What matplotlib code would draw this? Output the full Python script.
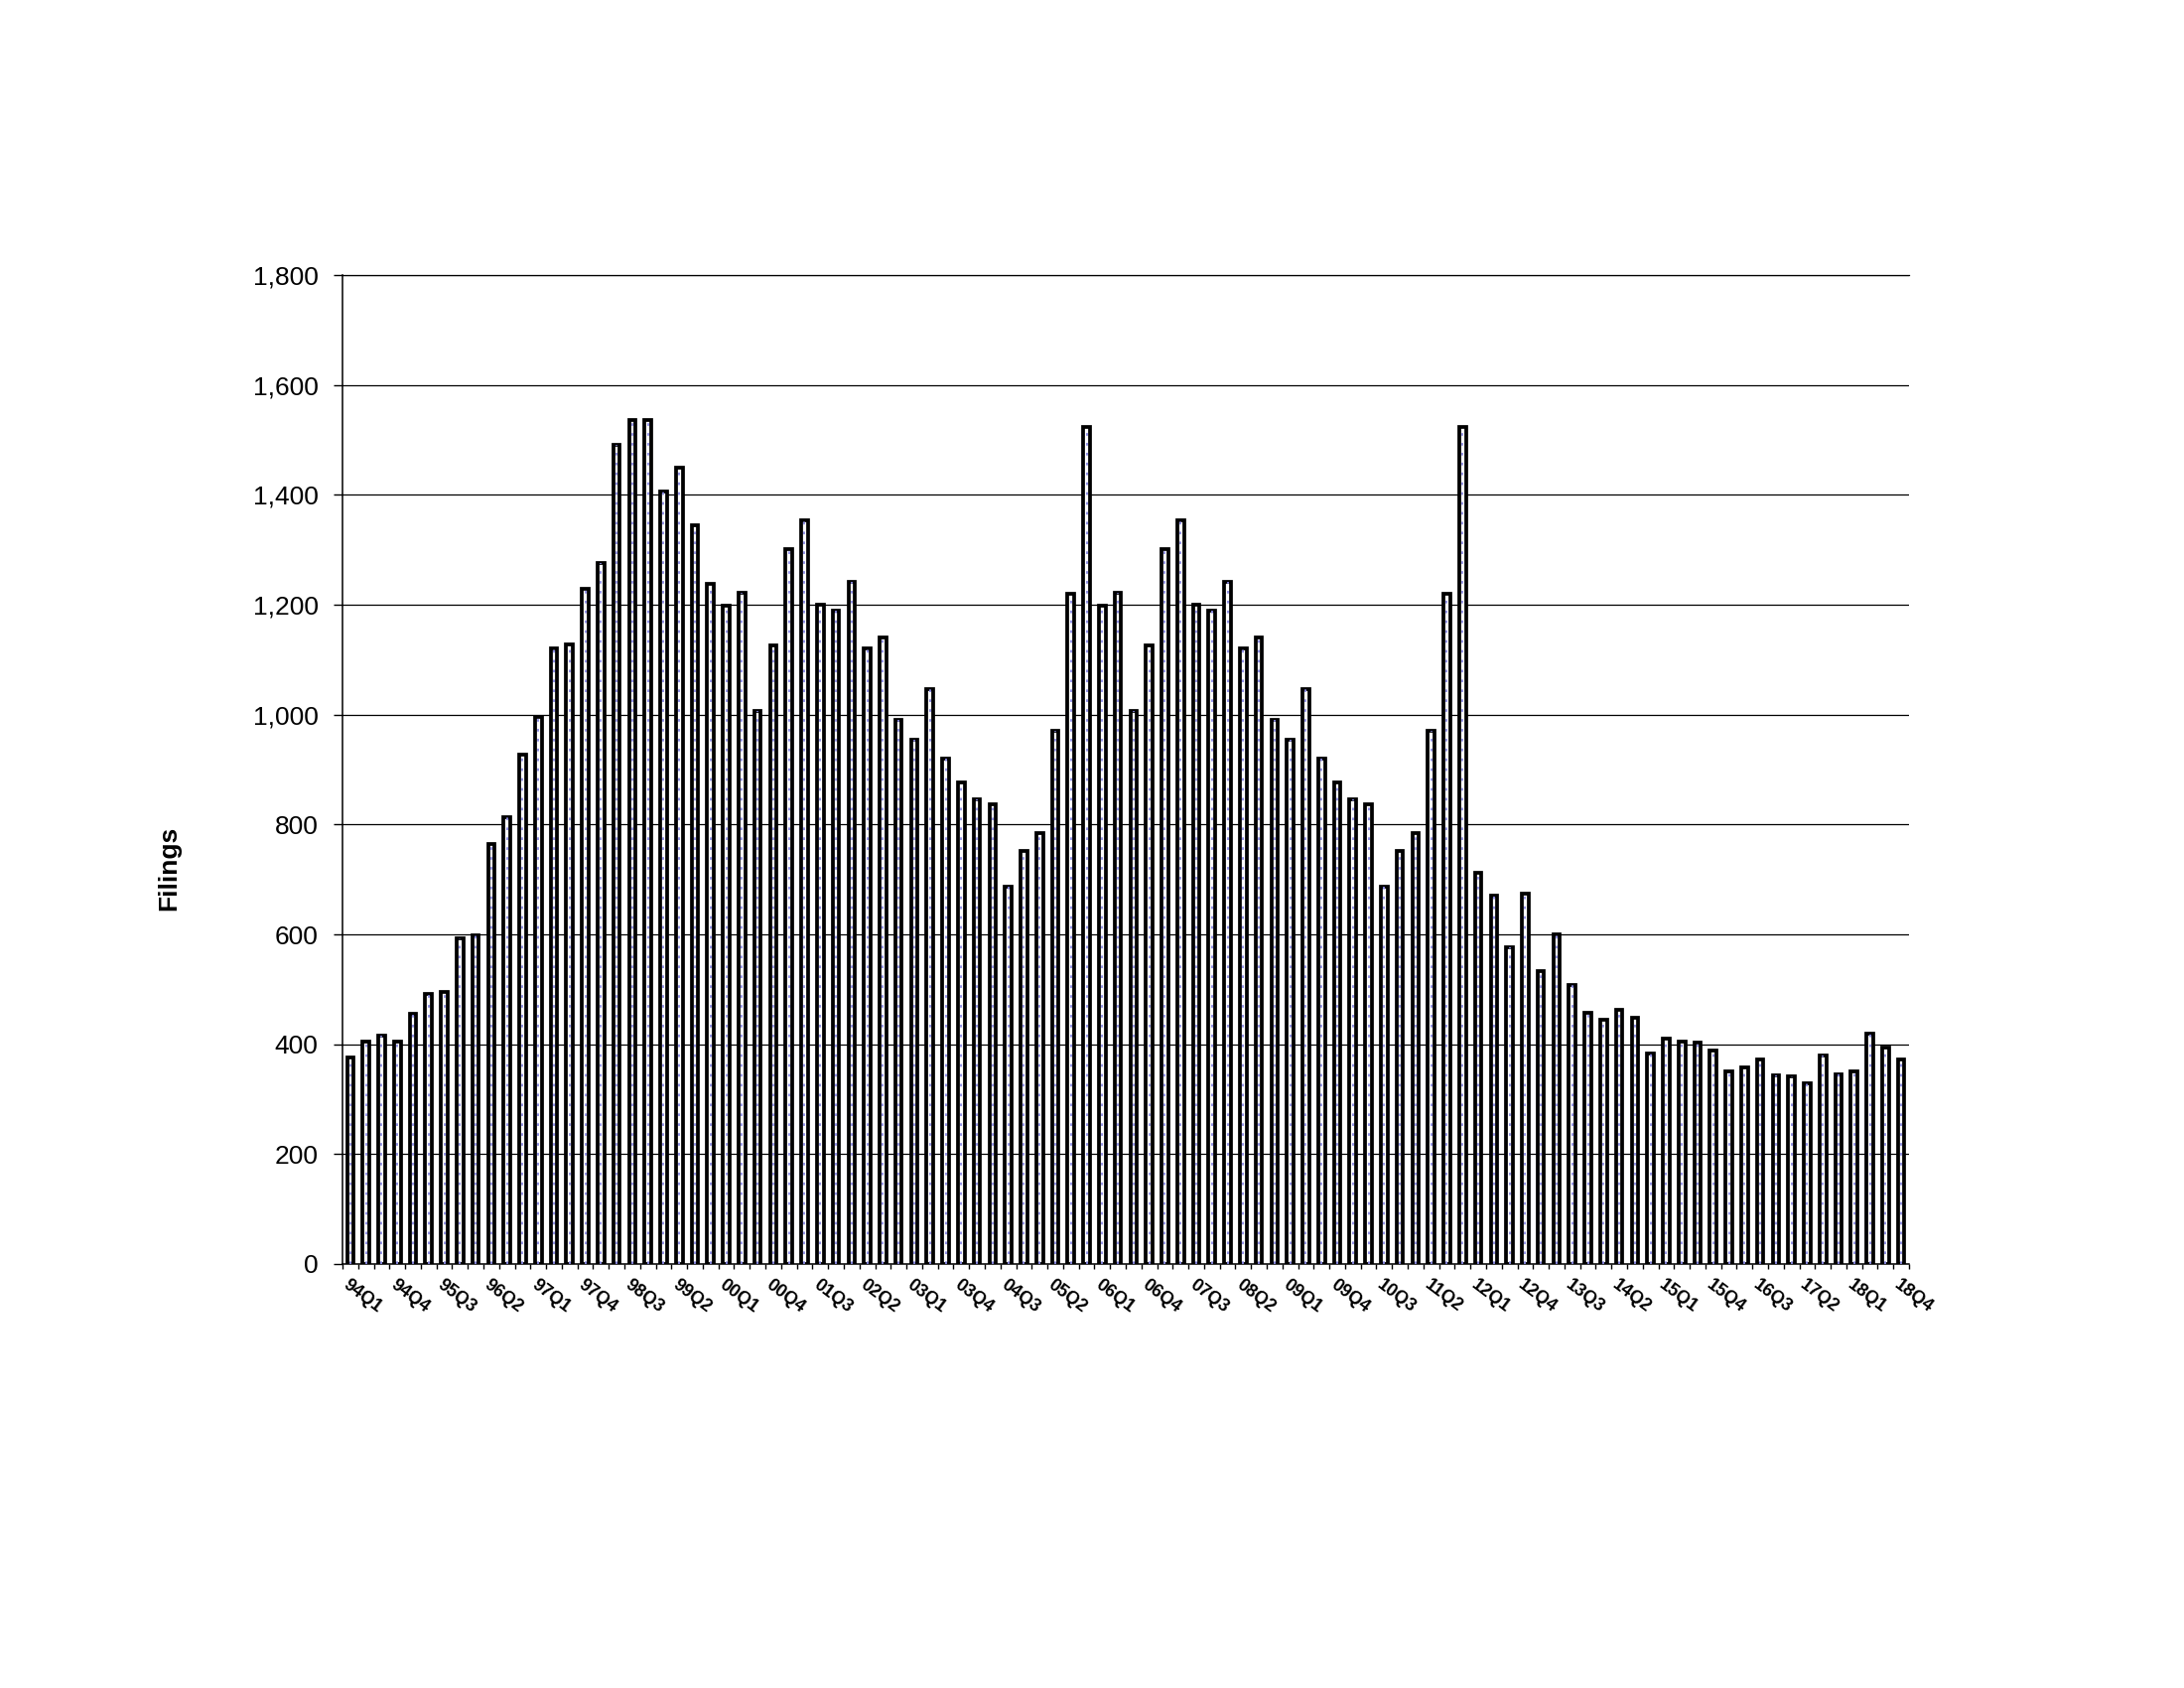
import numpy as np
import matplotlib
matplotlib.use("Agg")
import matplotlib.pyplot as plt
from matplotlib.ticker import FuncFormatter

plt.rcParams['font.family'] = ['Liberation Sans', 'DejaVu Sans']

# quarterly filings, 94Q1 .. 18Q4
filings = [
    376, 404, 416, 404, 455, 492, 495, 593, 598, 764,
    814, 927, 995, 1121, 1127, 1229, 1276, 1491, 1537, 1537,
    1406, 1449, 1344, 1238, 1199, 1222, 1006, 1126, 1302, 1354,
    1201, 1189, 1241, 1120, 1140, 990, 955, 1047, 920, 876,
    846, 837, 686, 752, 784, 970, 1220, 1523, 1199, 1222,
    1006, 1126, 1302, 1354, 1201, 1189, 1241, 1120, 1140, 990,
    955, 1047, 920, 876, 846, 837, 686, 752, 784, 970,
    1220, 1523, 712, 670, 576, 675, 534, 600, 507, 457,
    444, 462, 449, 383, 411, 404, 403, 388, 351, 357,
    373, 344, 341, 328, 380, 346, 350, 420, 394, 373,
]

# every third quarter is labelled
tick_labels = [
    '94Q1', '94Q4', '95Q3', '96Q2', '97Q1', '97Q4', '98Q3', '99Q2', '00Q1',
    '00Q4', '01Q3', '02Q2', '03Q1', '03Q4', '04Q3', '05Q2', '06Q1', '06Q4',
    '07Q3', '08Q2', '09Q1', '09Q4', '10Q3', '11Q2', '12Q1', '12Q4', '13Q3',
    '14Q2', '15Q1', '15Q4', '16Q3', '17Q2', '18Q1', '18Q4',
]

y_ticks = [0, 200, 400, 600, 800, 1000, 1200, 1400, 1600, 1800]

fig = plt.figure(figsize=(22, 17), dpi=100)
ax = fig.add_axes([0.1568, 0.2512, 0.7173, 0.5858])

x = np.arange(len(filings))
ax.bar(x, filings, width=0.42, color='white', edgecolor='black',
       linewidth=2.7, zorder=3)
# dotted blue line inside each bar
ax.vlines(x, 0, filings, colors='#8a8ae6', linewidth=1.3,
          linestyles=(0, (1.5, 4)), zorder=4)

ax.set_xlim(-0.5, len(filings) - 0.5)
ax.set_ylim(0, 1800)
ax.set_yticks(y_ticks)
ax.yaxis.set_major_formatter(FuncFormatter(lambda v, p: f'{int(v):,}'))
ax.yaxis.grid(True, color='black', linewidth=0.9, zorder=0)
ax.set_axisbelow(True)

# boundary ticks between every bar, labels on every third bar
ax.set_xticks(np.arange(-0.5, len(filings)), [''] * (len(filings) + 1))
ax.set_xticks(x[::3], tick_labels, minor=True, rotation=-37,
              rotation_mode='anchor', ha='left', va='top',
              fontsize=13, fontweight='bold')
ax.tick_params(axis='x', which='major', direction='out', length=3.5, width=1)
ax.tick_params(axis='x', which='minor', length=0, pad=9)
ax.tick_params(axis='y', direction='out', length=6.5, width=1, pad=11,
               labelsize=19)

ax.spines['right'].set_visible(False)
ax.spines['top'].set_linewidth(0.9)
ax.spines['left'].set_linewidth(1.1)
ax.spines['bottom'].set_linewidth(1.1)

fig.text(170 / 2200, 1 - 874 / 1700, 'Filings', rotation=90,
         ha='center', va='center', fontsize=19, fontweight='bold')

fig.savefig('out.png', dpi=100, facecolor='white')
